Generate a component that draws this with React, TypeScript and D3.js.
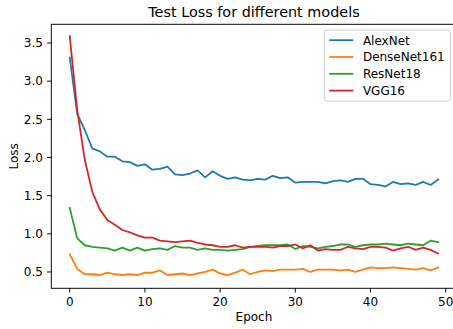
import React from "react";
import * as d3 from "d3";

const epochs = d3.range(50);
const seriesNames = ["AlexNet", "DenseNet161", "ResNet18", "VGG16"];
const colors = ["#1f77b4", "#ff7f0e", "#2ca02c", "#d62728"];

const alexnet = [3.31, 2.57, 2.36, 2.12, 2.08, 2.01, 2.01, 1.95, 1.94, 1.89,
  1.91, 1.84, 1.85, 1.88, 1.78, 1.77, 1.79, 1.83, 1.74, 1.82,
  1.76, 1.72, 1.74, 1.71, 1.7, 1.72, 1.71, 1.76, 1.73, 1.74,
  1.67, 1.68, 1.68, 1.68, 1.66, 1.69, 1.7, 1.68, 1.72, 1.72,
  1.65, 1.64, 1.62, 1.68, 1.65, 1.66, 1.64, 1.68, 1.64, 1.71];
const densenet = [0.73, 0.54, 0.47, 0.47, 0.46, 0.49, 0.47, 0.46, 0.47, 0.46,
  0.49, 0.49, 0.52, 0.46, 0.47, 0.48, 0.46, 0.48, 0.5, 0.53,
  0.48, 0.46, 0.49, 0.53, 0.47, 0.5, 0.52, 0.51, 0.53, 0.53,
  0.53, 0.54, 0.5, 0.53, 0.53, 0.53, 0.52, 0.53, 0.5, 0.53,
  0.56, 0.55, 0.55, 0.56, 0.55, 0.54, 0.53, 0.55, 0.52, 0.56];
const resnet = [1.34, 0.94, 0.85, 0.83, 0.82, 0.81, 0.78, 0.82, 0.78, 0.82,
  0.78, 0.8, 0.81, 0.79, 0.84, 0.82, 0.82, 0.79, 0.81, 0.79,
  0.79, 0.78, 0.79, 0.8, 0.83, 0.84, 0.85, 0.85, 0.85, 0.86,
  0.8, 0.84, 0.83, 0.81, 0.83, 0.84, 0.86, 0.86, 0.83, 0.85,
  0.86, 0.86, 0.87, 0.86, 0.85, 0.87, 0.86, 0.85, 0.91, 0.89];
const vgg = [3.59, 2.62, 1.97, 1.55, 1.32, 1.18, 1.12, 1.05, 1.02, 0.98,
  0.95, 0.95, 0.91, 0.9, 0.89, 0.9, 0.91, 0.88, 0.86, 0.85,
  0.83, 0.83, 0.85, 0.82, 0.83, 0.83, 0.83, 0.82, 0.84, 0.84,
  0.86, 0.81, 0.85, 0.78, 0.8, 0.79, 0.79, 0.83, 0.81, 0.8,
  0.83, 0.83, 0.82, 0.78, 0.81, 0.83, 0.79, 0.82, 0.79, 0.74];
const series = [alexnet, densenet, resnet, vgg];

const xTicks = [0, 10, 20, 30, 40, 50];
const yTicks = [0.5, 1.0, 1.5, 2.0, 2.5, 3.0, 3.5];
const title = "Test Loss for different models";
const xLabel = "Epoch";
const yLabel = "Loss";

const W = 453, H = 329;
const L = 51.3, R = 456.6, T = 24.3, B = 288.3;
const font = "DejaVu Sans, sans-serif";

export default function App() {
  const x = d3.scaleLinear().domain([-2.45, 51.45]).range([L, R]);
  const y = d3.scaleLinear().domain([0.286, 3.745]).range([B, T]);
  const line = d3.line<number>().x((_, i) => x(epochs[i])).y((d) => y(d));
  const tick = 4.2;
  const legX = 324.3, legY = 30, legW = 126, legH = 71;
  const rowY = [40.2, 57, 73.8, 90.6];
  return (
    <svg width={W} height={H} style={{ position: "absolute", left: 0, top: 0, background: "#fff" }} fontFamily={font}>
      <rect x={0} y={0} width={W} height={H} fill="#fff" />
      <defs>
        <clipPath id="plot">
          <rect x={L} y={T} width={R - L} height={B - T} />
        </clipPath>
      </defs>
      <g clipPath="url(#plot)">
        {series.map((s, k) => (
          <path key={k} d={line(s) || ""} fill="none" stroke={colors[k]} strokeWidth={1.8} strokeLinejoin="round" strokeLinecap="square" />
        ))}
      </g>
      <rect x={L} y={T} width={R - L} height={B - T} fill="none" stroke="#000" strokeWidth={0.96} />
      {xTicks.map((t) => (
        <g key={t}>
          <line x1={x(t)} x2={x(t)} y1={B} y2={B + tick} stroke="#000" strokeWidth={0.96} />
          <text x={x(t)} y={305.6} fontSize={12} textAnchor="middle" fill="#000">{t}</text>
        </g>
      ))}
      {yTicks.map((t) => (
        <g key={t}>
          <line x1={L - tick} x2={L} y1={y(t)} y2={y(t)} stroke="#000" strokeWidth={0.96} />
          <text x={L - tick - 4.2} y={y(t) + 4.3} fontSize={12} textAnchor="end" fill="#000">{t.toFixed(1)}</text>
        </g>
      ))}
      <text x={(L + R) / 2} y={17.1} fontSize={14.4} textAnchor="middle" fill="#000">{title}</text>
      <text x={(L + R) / 2} y={320.5} fontSize={12} textAnchor="middle" fill="#000">{xLabel}</text>
      <text transform={`translate(17.5,${(T + B) / 2}) rotate(-90)`} fontSize={12} textAnchor="middle" fill="#000">{yLabel}</text>
      <rect x={legX} y={legY} width={legW} height={legH} rx={2.5} fill="#fff" fillOpacity={0.8} stroke="#cccccc" strokeWidth={0.96} />
      {seriesNames.map((n, k) => (
        <g key={n}>
          <line x1={329.3} x2={353.3} y1={rowY[k]} y2={rowY[k]} stroke={colors[k]} strokeWidth={1.8} />
          <text x={362.9} y={rowY[k] + 4.3} fontSize={12} fill="#000">{n}</text>
        </g>
      ))}
    </svg>
  );
}
